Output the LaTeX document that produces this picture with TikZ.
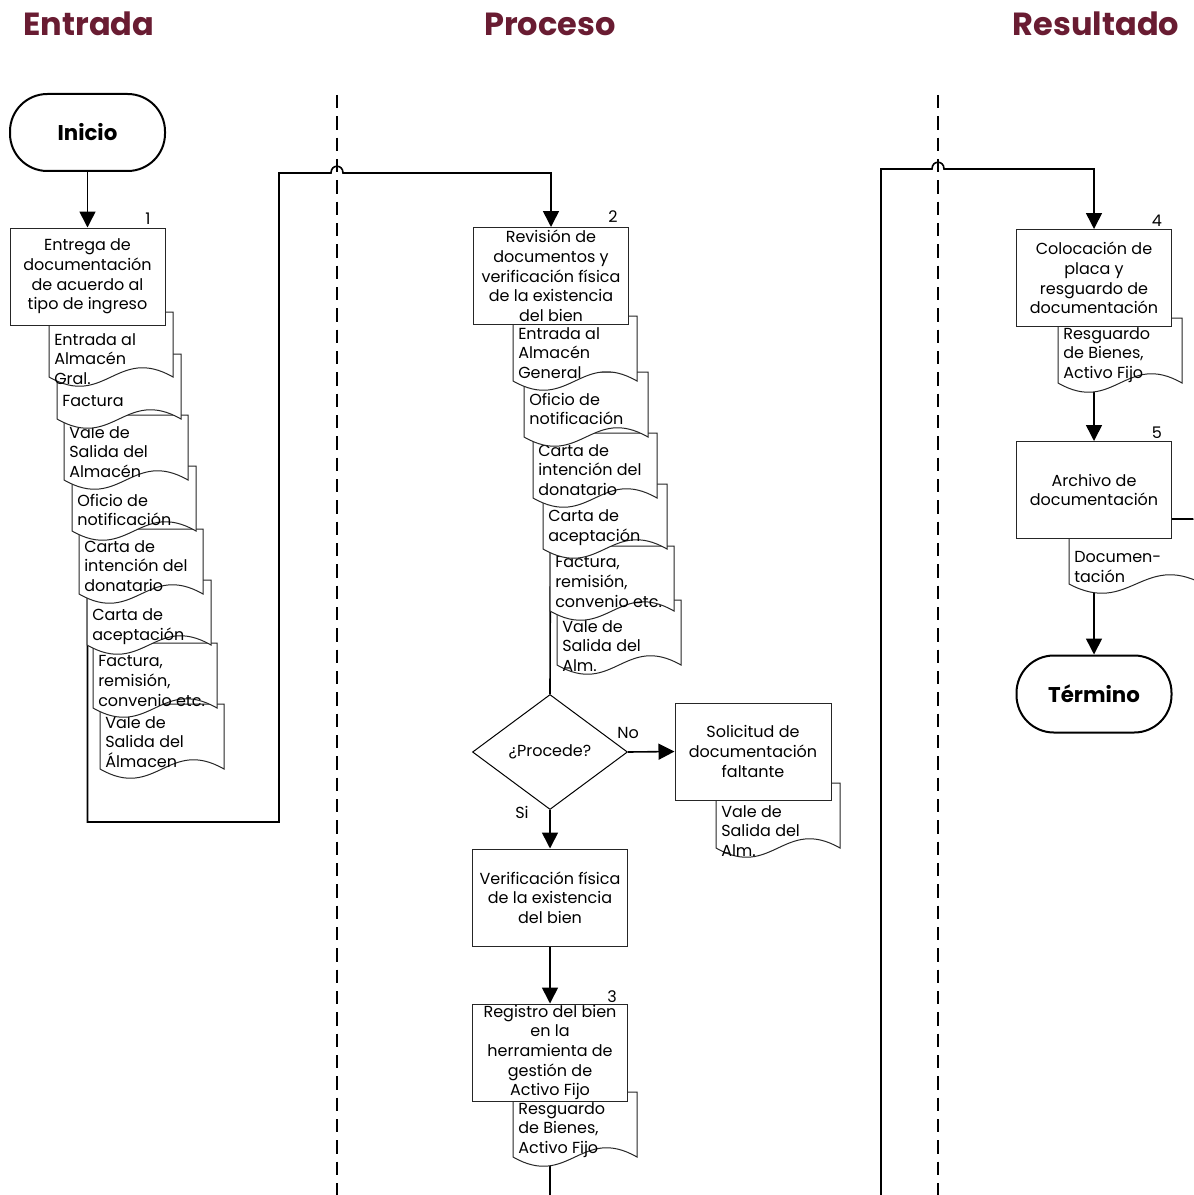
\documentclass[tikz,border=0pt]{standalone}
\usepackage{fontspec}
\setmainfont{Poppins}
\usetikzlibrary{shapes.geometric,arrows.meta}
\definecolor{guinda}{RGB}{105,28,50}
\pgfdeclarelayer{bg}
\pgfdeclarelayer{docs}
\pgfsetlayers{bg,docs,main}
% document shape: [width], name, x-left, y-top, y of text centre, text
\newcommand\docshape[6][124]{%
  \begin{pgfonlayer}{docs}
  \path[docline] (#3,#4) -- (#3,#4+65) .. controls (#3+0.45*#1,#4+97) and (#3+0.55*#1,#4+33) .. (#3+#1,#4+65) -- (#3+#1,#4) -- cycle;
  \node[doctext] (#2) at (#3+5,#5) {#6};
  \end{pgfonlayer}}
\begin{document}
\begin{tikzpicture}[x=0.75pt,y=-0.75pt,
  font=\fontsize{12}{14.8}\selectfont,
  box/.style={draw=black!85,line width=0.75pt,fill=white,minimum width=116.25pt,minimum height=72.75pt,inner sep=0pt,align=center},
  term/.style={draw=black,line width=1.5pt,fill=white,rounded corners=28pt,minimum width=116.25pt,minimum height=57.75pt,inner sep=0pt,font=\fontsize{16}{18}\selectfont\bfseries},
  dec/.style={diamond,draw=black,line width=0.75pt,fill=white,minimum width=116.25pt,minimum height=86.25pt,inner sep=0pt},
  doctext/.style={anchor=west,align=left,inner sep=0pt},
  docline/.style={draw=black!85,line width=0.75pt,fill=white},
  conn/.style={draw=black,line width=1.2pt},
  arr/.style={conn,-{Triangle[length=12pt,width=12pt]}},
  lane/.style={draw=black,line width=1.6pt,dash pattern=on 10pt off 6pt},
  head/.style={text=guinda,font=\fontsize{24}{28}\selectfont\bfseries},
  num/.style={inner sep=0pt}]
\useasboundingbox (0,0) rectangle (1193,1195);

% headers
\node[head] (hE) at (89,24) {Entrada};
\node[head] (hP) at (550,24) {Proceso};
\node[head] (hR) at (1096,24) {Resultado};

% terminals and process boxes
\node[term] (inicio) at (87.5,132.5) {Inicio};
\node[box] (b1) at (87.5,276.5) {Entrega de\\documentación\\de acuerdo al\\tipo de ingreso};
\node[box] (b2) at (551,276) {Revisión de\\documentos y\\verificación física\\de la existencia\\del bien};
\node[dec] (dec) at (550,752) {¿Procede?};
\node[box,minimum width=117pt] (sol) at (753,751.5) {Solicitud de\\documentación\\faltante};
\node[box] (ver) at (550,897.5) {Verificación física\\de la existencia\\del bien};
\node[box] (b3) at (550,1052.5) {Registro del bien\\en la\\herramienta de\\gestión de\\Activo Fijo};
\node[box] (b4) at (1094,278) {Colocación de\\placa y\\resguardo de\\documentación};
\node[box] (b5) at (1094,490) {Archivo de\\documentación};
\node[term] (termino) at (1094,694) {Término};

% step numbers and labels
\node[num] (n1) at (148,219) {1};
\node[num] (n2) at (613,217) {2};
\node[num] (n3) at (612,997) {3};
\node[num] (n4) at (1157,221) {4};
\node[num] (n5) at (1157,433) {5};
\node[num] (lno) at (628,733) {No};
\node[num] (lsi) at (522,812) {Si};

% free ends
\coordinate (mend) at (550,1195);
\coordinate (rstart) at (881,1195);
\coordinate (rend) at (1193,519);

% documents (lower ones first)
\docshape{dL8}{100}{704}{742}{Vale de\\Salida del\\Álmacen}
\docshape{dL7}{93}{643}{681}{Factura,\\remisión,\\convenio etc.}
\docshape{dL6}{87}{580}{627}{Carta de\\aceptación}
\docshape{dL5}{79}{529}{566}{Carta de\\intención del\\donatario}
\docshape{dL4}{72}{466}{510}{Oficio de\\notificación}
\docshape{dL3}{64}{415}{452}{Vale de\\Salida del\\Almacén}
\docshape{dL2}{57}{354}{401}{Factura}
\docshape{dL1}{49}{312}{359}{Entrada al\\Almacén\\Gral.}

\docshape{dM6}{557}{600}{646}{Vale de\\Salida del\\Alm.}
\docshape{dM5}{550}{546}{582}{Factura,\\remisión,\\convenio etc.}
\docshape{dM4}{543}{484}{528}{Carta de\\aceptación}
\docshape{dM3}{533}{433}{470}{Carta de\\intención del\\donatario}
\docshape{dM2}{524}{372}{409}{Oficio de\\notificación}
\docshape{dM1}{513}{316}{353}{Entrada al\\Almacén\\General}
\docshape{dS}{716}{783}{831}{Vale de\\Salida del\\Alm.}
\docshape{dB3}{513}{1092}{1130}{Resguardo\\de Bienes,\\Activo Fijo}
\docshape{dB4}{1058}{318}{355}{Resguardo\\de Bienes,\\Activo Fijo}
\docshape[134]{dB5}{1069}{519}{567}{Documen-\\tación}

% lanes and connectors
\begin{pgfonlayer}{bg}
\draw[lane] (337,95) -- (337,1195);
\draw[lane] (938,95) -- (938,1195);
\draw[arr] (inicio) -- (b1);
\draw[arr] (b1.south) -- (87.5,822) -- (279,822) -- (279,173) -- (331,173)
   .. controls (331,164) and (343,164) .. (343,173) -- (551,173) -- (b2.north);
\draw[conn] (b2.south) -- (dec.north);
\draw[arr] (dec.east) -- (sol.west);
\draw[arr] (dec.south) -- (ver.north);
\draw[arr] (ver.south) -- (b3.north);
\draw[conn] (b3.south) -- (mend);
\draw[arr] (rstart) -- (881,169) -- (932,169)
   .. controls (932,160) and (944,160) .. (944,169) -- (1094,169) -- (b4.north);
\draw[arr] (b4.south) -- (b5.north);
\draw[arr] (b5.south) -- (termino.north);
\end{pgfonlayer}
\draw[conn] (b5.east |- rend) -- (rend);
\end{tikzpicture}
\end{document}
